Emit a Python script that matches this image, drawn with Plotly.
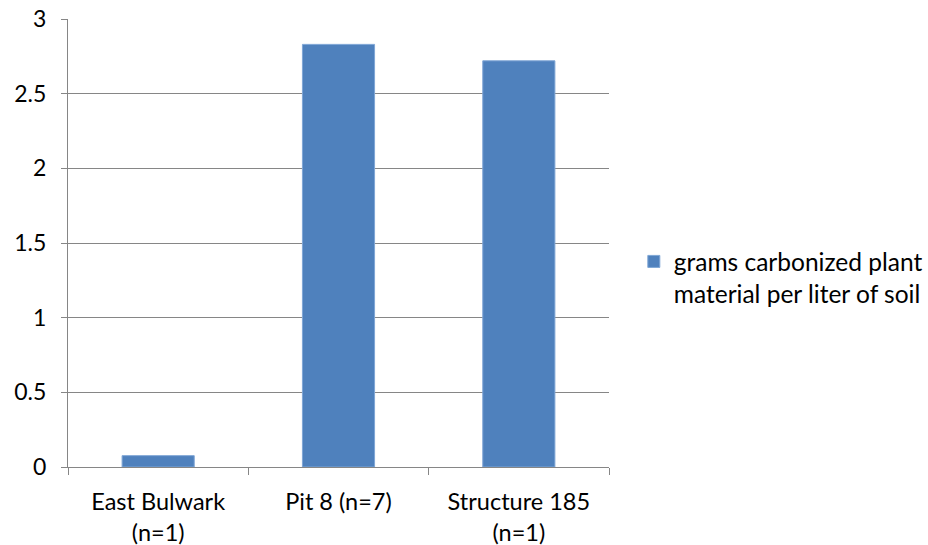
import plotly.graph_objects as go

# Carbonized plant remains recovered per liter of floated soil, by context
categories = ["East Bulwark<br>(n=1)", "Pit 8 (n=7)", "Structure 185<br>(n=1)"]
grams_per_liter = [0.076, 2.83, 2.72]
series_name = "grams carbonized plant<br>material per liter of soil"

y_ticks = [0, 0.5, 1, 1.5, 2, 2.5, 3]

FONT = "Lato"
GRID = "#868686"

fig = go.Figure()
fig.add_trace(go.Bar(
    x=categories,
    y=grams_per_liter,
    name=series_name,
    marker=dict(color="#4F81BD", line=dict(color="#7FA6D6", width=1)),
    showlegend=True,
))

fig.update_layout(
    width=928,
    height=545,
    paper_bgcolor="white",
    plot_bgcolor="white",
    margin=dict(l=68, r=319, t=19, b=78, autoexpand=False),
    bargap=0.6,
    font=dict(family=FONT, size=24, color="#000000"),
    showlegend=True,
    legend=dict(
        xref="container", yref="container",
        x=0.683, xanchor="left",
        y=0.5615, yanchor="top",
        valign="top",
        font=dict(family=FONT, size=24.5, color="#000000"),
        bgcolor="rgba(0,0,0,0)",
        itemwidth=30,
        tracegroupgap=0,
    ),
)

fig.update_xaxes(
    showline=True, linecolor=GRID, linewidth=1,
    ticks="outside", tickson="boundaries", ticklen=7, tickcolor=GRID, tickwidth=1,
    showgrid=False,
    automargin=False,
    ticklabelstandoff=14,
    tickfont=dict(family=FONT, size=23.5, color="#000000"),
)

fig.update_yaxes(
    range=[0, 3],
    tickvals=y_ticks,
    showline=True, linecolor=GRID, linewidth=1,
    ticks="outside", ticklen=6, tickcolor=GRID, tickwidth=1,
    showgrid=True, gridcolor=GRID, gridwidth=1,
    zeroline=False,
    automargin=False,
    ticklabelstandoff=10,
    tickfont=dict(family=FONT, size=23, color="#000000"),
)

fig.write_html("out.html")
